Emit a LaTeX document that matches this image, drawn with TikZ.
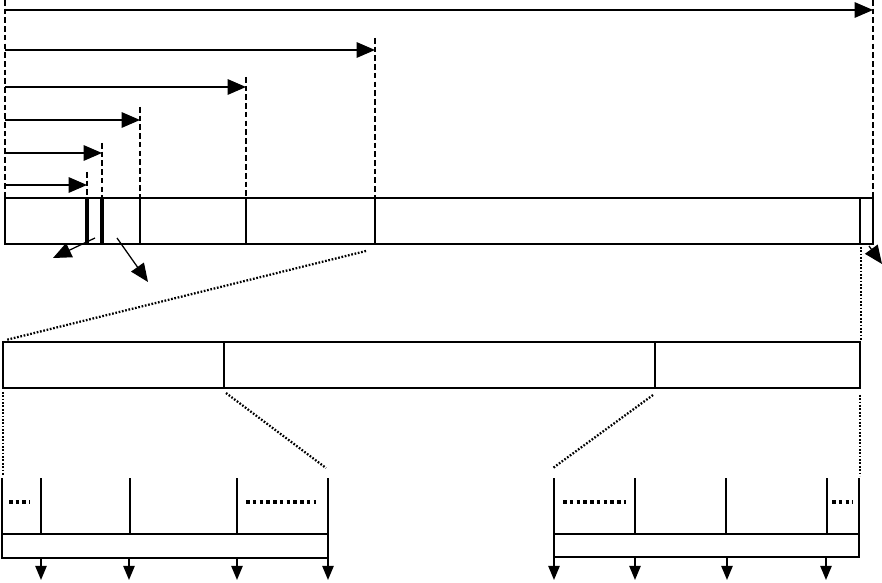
\documentclass[tikz,border=0pt]{standalone}
\usepackage{tikz}
\usetikzlibrary{arrows.meta}

\begin{document}
\begin{tikzpicture}[
    x=0.025cm, y=-0.025cm,
    bar/.style={line width=1.8pt},
    thinbar/.style={line width=1.1pt},
    guide/.style={line width=0.8pt, dash pattern=on 4pt off 2.2pt},
    zoomline/.style={line width=1.6pt, dash pattern=on 1.2pt off 1.2pt},
    span/.style={-{Triangle[length=13pt,width=11pt]}, line width=0.9pt},
    outarr/.style={-{Triangle[length=10pt,width=8pt]}, line width=1.2pt},
    gap/.style={line width=2.6pt, dash pattern=on 2.6pt off 2.2pt}
]
\useasboundingbox (0,0) rectangle (882,583);

% span arrows above the frame
\draw[guide] (5,0) -- (5,198);
\foreach \name/\x/\y/\top in {a/87/185/172, b/102/153/143, c/140/120/107, d/246/87/77, e/375/50/38, f/873/10/0} {
  \coordinate (\name0) at (5,\y);
  \coordinate (\name1) at (\x,\y);
  \draw[guide] (\x,\top) -- (\x,198);
  \draw[span] (\name0) -- (\name1);
}

% top frame
\draw[bar] (5,198) rectangle (873,244);
\draw[line width=2.8pt] (87,198) -- (87,244);
\draw[line width=2.8pt] (102,198) -- (102,244);
\foreach \x in {140,246,375,860}
  \draw[bar] (\x,198) -- (\x,244);

% small pointers
\coordinate (p0) at (95,238);
\coordinate (p1) at (53,258);
\coordinate (q0) at (117,238);
\coordinate (q1) at (148,282);
\coordinate (r0) at (869,246);
\coordinate (r1) at (882,264);
\draw[span] (p0) -- (p1);
\draw[span] (q0) -- (q1);
\draw[span] (r0) -- (r1);

% middle frame
\draw[bar] (3,342) rectangle (860,388);
\draw[bar] (224,342) -- (224,388);
\draw[thinbar] (655,342) -- (655,388);

\draw[zoomline] (366,251) -- (6,340);
\draw[zoomline] (861,247) -- (861,340);
\draw[zoomline] (3,392) -- (3,476);
\draw[zoomline] (226,393) -- (326,468);
\draw[zoomline] (653,395) -- (553,468);
\draw[zoomline] (860,395) -- (860,476);

% lower left frame
\draw[bar] (2,478) -- (2,558) -- (328,558) -- (328,478);
\draw[bar] (2,534) -- (328,534);
\draw[thinbar] (41,478) -- (41,533);
\draw[bar] (130,478) -- (130,533);
\draw[bar] (237,478) -- (237,533);
\draw[gap] (9,502) -- (30,502);
\draw[gap] (246,502) -- (316,502);
\foreach \x in {41,129,237,328}
  \draw[outarr] (\x,558) -- (\x,580);

% lower right frame
\draw[bar] (554,478) -- (554,557) -- (859,557) -- (859,478);
\draw[thinbar] (554,534) -- (859,534);
\draw[bar] (635,478) -- (635,533);
\draw[bar] (726,478) -- (726,534);
\draw[bar] (827,478) -- (827,533);
\draw[gap] (563,502) -- (626,502);
\draw[gap] (832,502) -- (853,502);
\foreach \x in {554,635,727,826}
  \draw[outarr] (\x,557) -- (\x,580);
\end{tikzpicture}
\end{document}
